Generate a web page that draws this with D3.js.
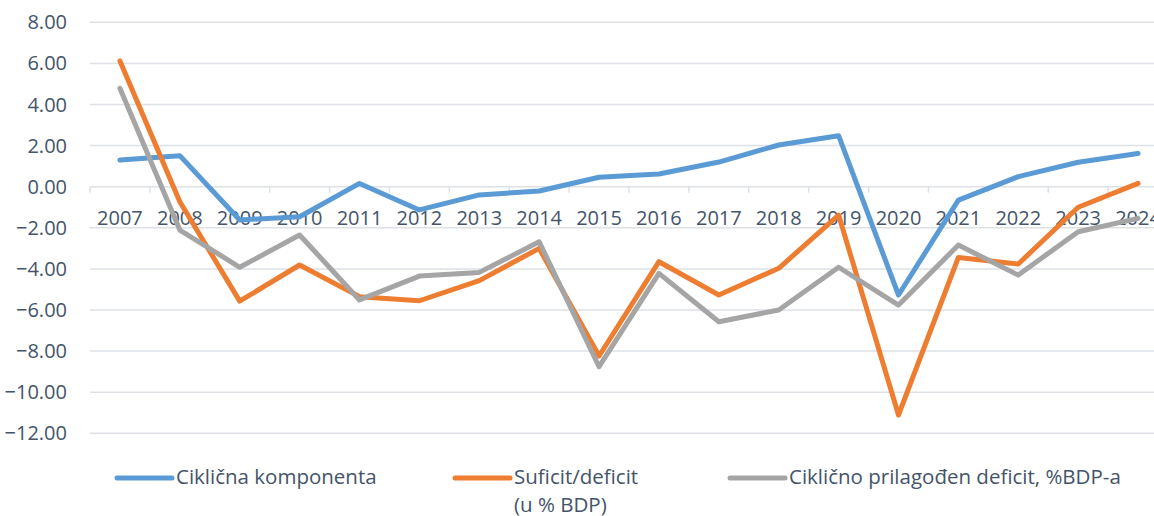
<!DOCTYPE html>
<html>
<head>
<meta charset="utf-8">
<script src="https://cdn.jsdelivr.net/npm/d3@7"></script>
<style>
  body { margin: 0; background: #fff; }
  svg text { font-family: 'Open Sans', sans-serif; fill: #44546A; }
</style>
</head>
<body>
<div class="chart-container"></div>
<script>
const w = 1154,
      h = 516;

const years = ['2007', '2008', '2009', '2010', '2011', '2012', '2013', '2014', '2015',
               '2016', '2017', '2018', '2019', '2020', '2021', '2022', '2023', '2024'];
const cyclical = [1.30, 1.51, -1.62, -1.46, 0.16, -1.13, -0.40, -0.21, 0.46,
                  0.62, 1.20, 2.03, 2.48, -5.27, -0.65, 0.49, 1.19, 1.62];
const balance = [6.12, -0.73, -5.57, -3.81, -5.35, -5.55, -4.57, -3.00, -8.24,
                 -3.65, -5.27, -3.97, -1.38, -11.11, -3.44, -3.76, -1.00, 0.16];
const adjusted = [4.79, -2.11, -3.92, -2.35, -5.51, -4.35, -4.17, -2.68, -8.76,
                  -4.22, -6.57, -6.00, -3.92, -5.76, -2.84, -4.30, -2.19, -1.54];
const yTicks = [8, 6, 4, 2, 0, -2, -4, -6, -8, -10, -12];
const seriesNames = ['Ciklična komponenta', 'Suficit/deficit|(u % BDP)', 'Ciklično prilagođen deficit, %BDP-a'];
const color = ['#5B9BD5', '#ED7D31', '#A5A5A5'];

const svg = d3.select('.chart-container')
  .append('svg')
  .attr('width', w)
  .attr('height', h);

const xScale = d3.scaleBand()
  .domain(years)
  .range([90, 1168]);

const yScale = d3.scaleLinear()
  .domain([-12, 8])
  .range([433.3, 22.3]);

// gridlines
svg.append('g')
  .selectAll('line')
  .data(yTicks)
  .enter()
  .append('line')
  .attr('x1', 90)
  .attr('x2', 1168)
  .attr('y1', d => yScale(d))
  .attr('y2', d => yScale(d))
  .style('stroke', '#DDE1E6')
  .style('stroke-width', 1.5);

// y labels
svg.append('g')
  .selectAll('text')
  .data(yTicks)
  .enter()
  .append('text')
  .attr('x', 67)
  .attr('y', d => yScale(d))
  .attr('dy', '0.35em')
  .style('font-size', '20px')
  .style('text-anchor', 'end')
  .text(d => d3.format('.2f')(d));

// category axis at zero
const y0 = yScale(0);
svg.append('g')
  .selectAll('line')
  .data(years.concat(['end']))
  .enter()
  .append('line')
  .attr('x1', (d, i) => 90 + i * xScale.bandwidth())
  .attr('x2', (d, i) => 90 + i * xScale.bandwidth())
  .attr('y1', y0)
  .attr('y2', y0 + 6)
  .style('stroke', '#DDE1E6')
  .style('stroke-width', 1.5);

svg.append('g')
  .selectAll('text')
  .data(years)
  .enter()
  .append('text')
  .attr('x', d => xScale(d) + xScale.bandwidth() / 2)
  .attr('y', y0 + 31)
  .attr('dy', '0.35em')
  .style('font-size', '20px')
  .style('text-anchor', 'middle')
  .text(d => d);

// lines
const line = d3.line()
  .x((d, i) => xScale(years[i]) + xScale.bandwidth() / 2)
  .y(d => yScale(d));

[cyclical, balance, adjusted].forEach((s, k) => {
  svg.append('path')
    .datum(s)
    .attr('d', line)
    .style('fill', 'none')
    .style('stroke', color[k])
    .style('stroke-width', 5)
    .style('stroke-linejoin', 'round')
    .style('stroke-linecap', 'round');
});

// legend
const legendX = [117, 455, 730];
const legend = svg.append('g')
  .selectAll('g')
  .data(seriesNames)
  .enter()
  .append('g')
  .attr('transform', (d, i) => `translate(${legendX[i]}, 477)`);

legend.append('line')
  .attr('x1', 0)
  .attr('x2', 55)
  .attr('y1', 1)
  .attr('y2', 1)
  .style('stroke', (d, i) => color[i])
  .style('stroke-width', 5)
  .style('stroke-linecap', 'round');

legend.append('text')
  .attr('x', 59)
  .style('font-size', '20.5px')
  .selectAll('tspan')
  .data(d => d.split('|'))
  .enter()
  .append('tspan')
  .attr('x', 59)
  .attr('y', (d, i) => i * 28)
  .attr('dy', '0.35em')
  .text(d => d);
</script>
</body>
</html>
